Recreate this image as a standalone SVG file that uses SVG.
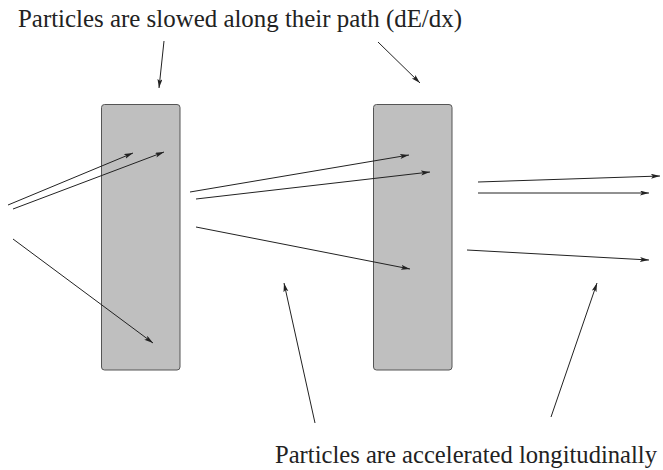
<svg xmlns="http://www.w3.org/2000/svg" width="663" height="470" viewBox="0 0 663 470">
<style>
.slab{fill:#bfbfbf;stroke:#555;stroke-width:1}
.ray{stroke:#222;stroke-width:1;fill:none;marker-end:url(#ah)}
.lbl{font-family:"Liberation Serif","Times New Roman",serif;font-size:25px;fill:#222}
</style>
<defs>
<marker id="ah" markerUnits="userSpaceOnUse" markerWidth="10" markerHeight="6" refX="9" refY="2.5" orient="auto">
<path d="M0,0 L9,2.5 L0,5 L2,2.5 z" fill="#222"/>
</marker>
</defs>
<rect width="663" height="470" fill="#fff"/>
<g id="slab1"><rect class="slab" x="101.5" y="104.5" width="78.5" height="265.5" rx="3"/></g>
<g id="slab2"><rect class="slab" x="373.5" y="104.5" width="78.5" height="265.5" rx="3"/></g>
<g id="label-top"><text class="lbl" x="18" y="27" textLength="444" lengthAdjust="spacingAndGlyphs">Particles are slowed along their path (dE/dx)</text></g>
<g id="label-bottom"><text class="lbl" x="275" y="463" textLength="382" lengthAdjust="spacingAndGlyphs">Particles are accelerated longitudinally</text></g>
<g id="connectors">
<line class="ray" x1="8" y1="205" x2="133" y2="153"/>
<line class="ray" x1="13" y1="209" x2="164" y2="152"/>
<line class="ray" x1="13" y1="239" x2="153" y2="343"/>
<line class="ray" x1="190" y1="192" x2="409" y2="155"/>
<line class="ray" x1="196" y1="199" x2="430" y2="172"/>
<line class="ray" x1="196" y1="227" x2="410" y2="269"/>
<line class="ray" x1="478" y1="182" x2="660" y2="176"/>
<line class="ray" x1="478" y1="193" x2="649" y2="193"/>
<line class="ray" x1="467" y1="250" x2="649" y2="260"/>
<line class="ray" x1="164" y1="41" x2="159" y2="88"/>
<line class="ray" x1="378" y1="42" x2="420" y2="83"/>
<line class="ray" x1="315" y1="423" x2="284" y2="283"/>
<line class="ray" x1="551" y1="417" x2="597" y2="283"/>
</g>
</svg>
